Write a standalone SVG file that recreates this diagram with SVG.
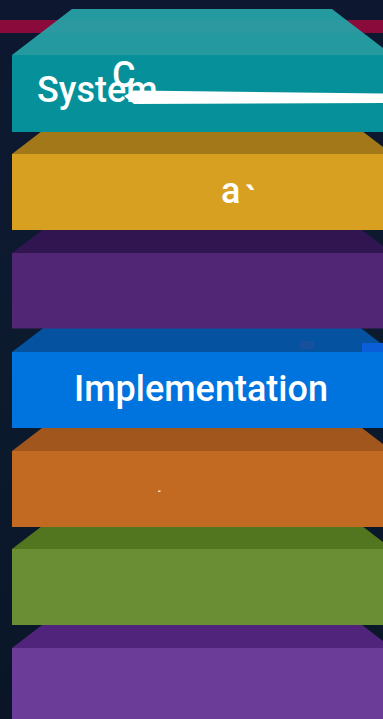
<svg xmlns="http://www.w3.org/2000/svg" width="383" height="719" viewBox="0 0 383 719">
  <style>
    .lbl { font-family: Roboto, "Liberation Sans", sans-serif; font-weight: 500; font-size: 36px; fill: #ffffff; }
  </style>
  <defs>
    <linearGradient id="bg" x1="0" y1="0" x2="0" y2="1">
      <stop offset="0" stop-color="#0d1830"/>
      <stop offset="0.5" stop-color="#0c1a2e"/>
      <stop offset="1" stop-color="#0a1628"/>
    </linearGradient>
  </defs>
  <rect x="0" y="0" width="383" height="719" fill="url(#bg)"/>
  <rect x="0" y="20" width="383" height="13" fill="#8a0a3c"/>
  <rect x="362" y="343" width="21" height="9" fill="#0a5fd8"/>

  <g id="layer7">
    <polygon points="12,648 72,602 332,602 392,648" fill="#50247a"/>
    <rect x="12" y="648" width="380" height="77" fill="#6b3c98"/>
  </g>
  <g id="layer6">
    <polygon points="12,549 72,503 332,503 392,549" fill="#52751f"/>
    <rect x="12" y="549" width="380" height="76" fill="#6a8e33"/>
  </g>
  <g id="layer5">
    <polygon points="12,451 72,405 332,405 392,451" fill="#a0561c"/>
    <rect x="12" y="451" width="380" height="76" fill="#c36a22"/>
    <rect x="158" y="490.5" width="2.5" height="1.5" fill="#ffffff" opacity="0.8"/>
  </g>
  <g id="layer4">
    <polygon points="12,352 72,306 332,306 392,352" fill="#0452a0"/>
    <rect x="300" y="341" width="14" height="8" fill="#2a4f9a" opacity="0.5"/>
    <rect x="362" y="343" width="21" height="9" fill="#0a5fd8"/>
    <rect x="12" y="352" width="380" height="76" fill="#0074de"/>
    <text class="lbl" x="201" y="401" text-anchor="middle">Implementation</text>
  </g>
  <g id="layer3">
    <polygon points="12,253 72,207 332,207 392,253" fill="#301551"/>
    <rect x="12" y="253" width="380" height="75.5" fill="#512775"/>
  </g>
  <g id="layer2">
    <polygon points="12,154 72,108 332,108 392,154" fill="#a37818"/>
    <rect x="12" y="154" width="380" height="76" fill="#d8a020"/>
    <text class="lbl" x="221" y="203">a</text>
    <text class="lbl" x="245" y="212" font-size="26">`</text>
  </g>
  <g id="layer1">
    <polygon points="12,55 72,9 332,9 392,55" fill="#26a1a6" opacity="0.94"/>
    <rect x="12" y="55" width="380" height="77" fill="#06919a"/>
    <text class="lbl" x="37" y="101.5">System</text>
    <text class="lbl" x="112" y="87" font-size="26" font-weight="400">C</text>
  </g>

  <g id="connectors">
    <polygon points="124,96 134,90.5 383,93.5 383,103 134,104" fill="#ffffff"/>
  </g>
</svg>
